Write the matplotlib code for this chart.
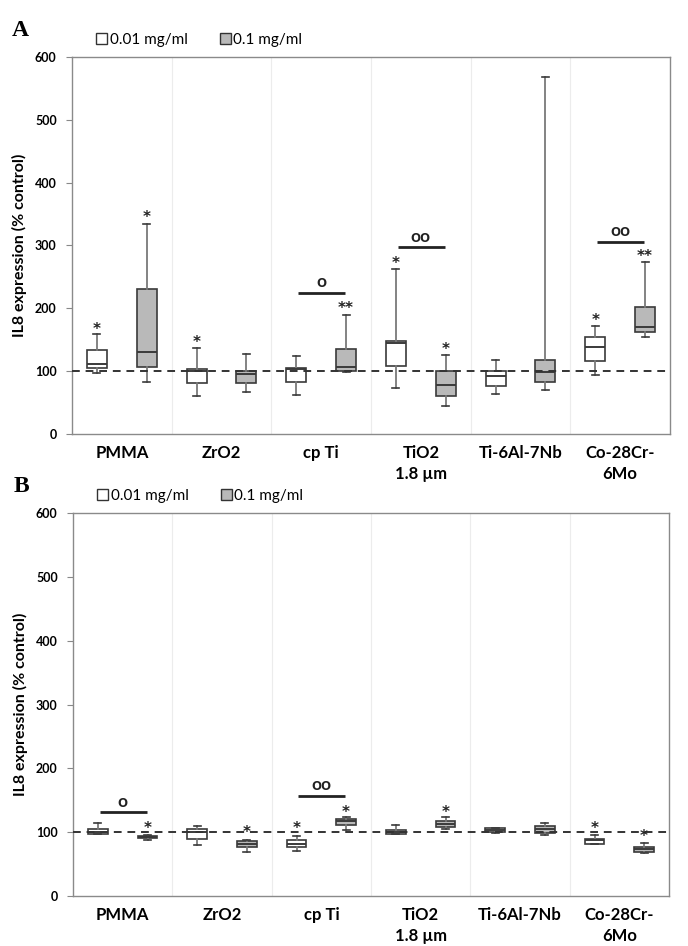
import matplotlib
matplotlib.use("Agg")
import matplotlib.pyplot as plt
from matplotlib.patches import Patch

# ---------------- data ----------------
categories = ["PMMA", "ZrO2", "cp Ti", "TiO2\n1.8 µm", "Ti-6Al-7Nb", "Co-28Cr-\n6Mo"]
series_labels = ["0.01 mg/ml", "0.1 mg/ml"]

# Panel A, 0.01 mg/ml
A_low_whislo = [97, 61, 62, 74, 63, 94]
A_low_q1     = [105, 81, 82, 109, 77, 116]
A_low_med    = [111, 101, 103, 145, 92, 138]
A_low_q3     = [134, 103, 105, 148, 100, 155]
A_low_whishi = [159, 137, 124, 262, 118, 172]
# Panel A, 0.1 mg/ml
A_high_whislo = [82, 67, 99, 45, 70, 155]
A_high_q1     = [107, 81, 101, 61, 83, 163]
A_high_med    = [131, 96, 107, 78, 98, 171]
A_high_q3     = [231, 100, 135, 100, 117, 202]
A_high_whishi = [334, 127, 189, 125, 568, 273]

# Panel B, 0.01 mg/ml
B_low_whislo = [97, 80, 71, 97, 98, 81]
B_low_q1     = [97, 90, 77, 97, 100, 82]
B_low_med    = [101, 100, 82, 101, 104, 87]
B_low_q3     = [105, 105, 88, 104, 106, 90]
B_low_whishi = [114, 110, 94, 111, 107, 96]
# Panel B, 0.1 mg/ml
B_high_whislo = [88, 69, 103, 105, 96, 67]
B_high_q1     = [91, 76, 112, 108, 99, 69]
B_high_med    = [92, 81, 118, 113, 105, 73]
B_high_q3     = [94, 86, 121, 118, 110, 77]
B_high_whishi = [95, 88, 123, 123, 114, 83]

# significance stars: (category index, series index, text, y)
A_stars = [(0, 0, "*", 172), (0, 1, "*", 350), (1, 0, "*", 151), (2, 1, "**", 204),
           (3, 0, "*", 276), (3, 1, "*", 139), (5, 0, "*", 186), (5, 1, "**", 288)]
B_stars = [(0, 1, "*", 111), (1, 1, "*", 104), (2, 0, "*", 110), (2, 1, "*", 136),
           (3, 1, "*", 136), (5, 0, "*", 111), (5, 1, "*", 98)]
# comparison bars: (category index, y, symbol)
A_bars = [(2, 225, "o"), (3, 297, "oo"), (5, 306, "oo")]
B_bars = [(0, 131, "o"), (2, 157, "oo")]

control_level = 100
yticks = [0, 100, 200, 300, 400, 500, 600]

# ---------------- style ----------------
FONT = ["Lato", "DejaVu Sans"]
plt.rcParams["font.family"] = FONT
EDGE = "#3a3a3a"
WHISK = "#7a7a7a"
GREY = "#b9b9b9"

fig = plt.figure(figsize=(6.88, 9.46), dpi=100)
W, H = 688, 946


def add_axes_px(left, top, right, bottom):
    return fig.add_axes([left / W, 1 - bottom / H, (right - left) / W, (bottom - top) / H])


def make_stats(wlo, q1, med, q3, whi):
    return [dict(whislo=a, q1=b, med=c, q3=d, whishi=e, fliers=[])
            for a, b, c, d, e in zip(wlo, q1, med, q3, whi)]


def draw_panel(ax, low, high, stars, bars, letter):
    n = len(categories)
    offs = [-0.25, 0.25]
    fills = ["white", GREY]
    for s, (data, off, fc) in enumerate(zip([low, high], offs, fills)):
        stats = make_stats(*data)
        pos = [i + off for i in range(n)]
        ax.bxp(stats, positions=pos, widths=0.2, showfliers=False, patch_artist=True,
               boxprops=dict(facecolor=fc, edgecolor=EDGE, linewidth=1.2),
               medianprops=dict(color=EDGE, linewidth=1.4),
               whiskerprops=dict(color=WHISK, linewidth=1.3),
               capprops=dict(color=EDGE, linewidth=1.2),
               capwidths=0.07, manage_ticks=False, zorder=3)
    ax.axhline(control_level, color="#333333", linestyle=(0, (4, 3)), linewidth=1.4, zorder=4)
    for (ci, si, txt, y) in stars:
        ax.text(ci + offs[si], y - 5, txt, ha="center", va="center", fontsize=11,
                fontweight="bold", color="#222222", zorder=5,
                family=["DejaVu Sans"])
    for (ci, y, sym) in bars:
        ax.plot([ci - 0.23, ci + 0.24], [y, y], color="#222222", linewidth=2.0,
                solid_capstyle="butt", zorder=5)
        ax.text(ci, y + 4, sym, ha="center", va="bottom", fontsize=12.5,
                fontweight="bold", color="#222222", zorder=5)
    ax.set_xlim(-0.5, n - 0.5)
    ax.set_ylim(0, 600)
    ax.set_yticks(yticks)
    ax.set_yticklabels([str(t) for t in yticks], fontsize=9, fontweight="bold")
    ax.set_xticks(range(n))
    ax.set_xticklabels(categories, fontsize=12, fontweight="bold", linespacing=1.4)
    ax.tick_params(axis="x", length=0, pad=8)
    ax.tick_params(axis="y", length=4, color="#888888", pad=7)
    for b in range(1, n):
        ax.axvline(b - 0.5, color="#ececec", linewidth=0.8, zorder=0)
    for sp in ax.spines.values():
        sp.set_color("#8a8a8a")
        sp.set_linewidth(1.0)
    ax.set_ylabel("IL8 expression (% control)", fontsize=11.5, fontweight="bold", labelpad=6)
    handles = [Patch(facecolor="white", edgecolor="#333333", linewidth=1.0),
               Patch(facecolor=GREY, edgecolor="#333333", linewidth=1.0)]
    ax.legend(handles, series_labels, loc="center left", bbox_to_anchor=(0.04, 1.045),
              ncol=2, frameon=False, fontsize=11, handlelength=0.75, handleheight=0.75,
              handletextpad=0.15, columnspacing=2.1, borderpad=0, borderaxespad=0)
    ax.text(-0.1, 1.07, letter, transform=ax.transAxes, fontsize=17, fontweight="bold",
            family=["Liberation Serif", "DejaVu Serif"], ha="left", va="center")


axA = add_axes_px(72, 57, 670, 434)
draw_panel(axA,
           [A_low_whislo, A_low_q1, A_low_med, A_low_q3, A_low_whishi],
           [A_high_whislo, A_high_q1, A_high_med, A_high_q3, A_high_whishi],
           A_stars, A_bars, "A")

axB = add_axes_px(73, 513, 669, 896)
draw_panel(axB,
           [B_low_whislo, B_low_q1, B_low_med, B_low_q3, B_low_whishi],
           [B_high_whislo, B_high_q1, B_high_med, B_high_q3, B_high_whishi],
           B_stars, B_bars, "B")

fig.savefig("out.png", dpi=100)
